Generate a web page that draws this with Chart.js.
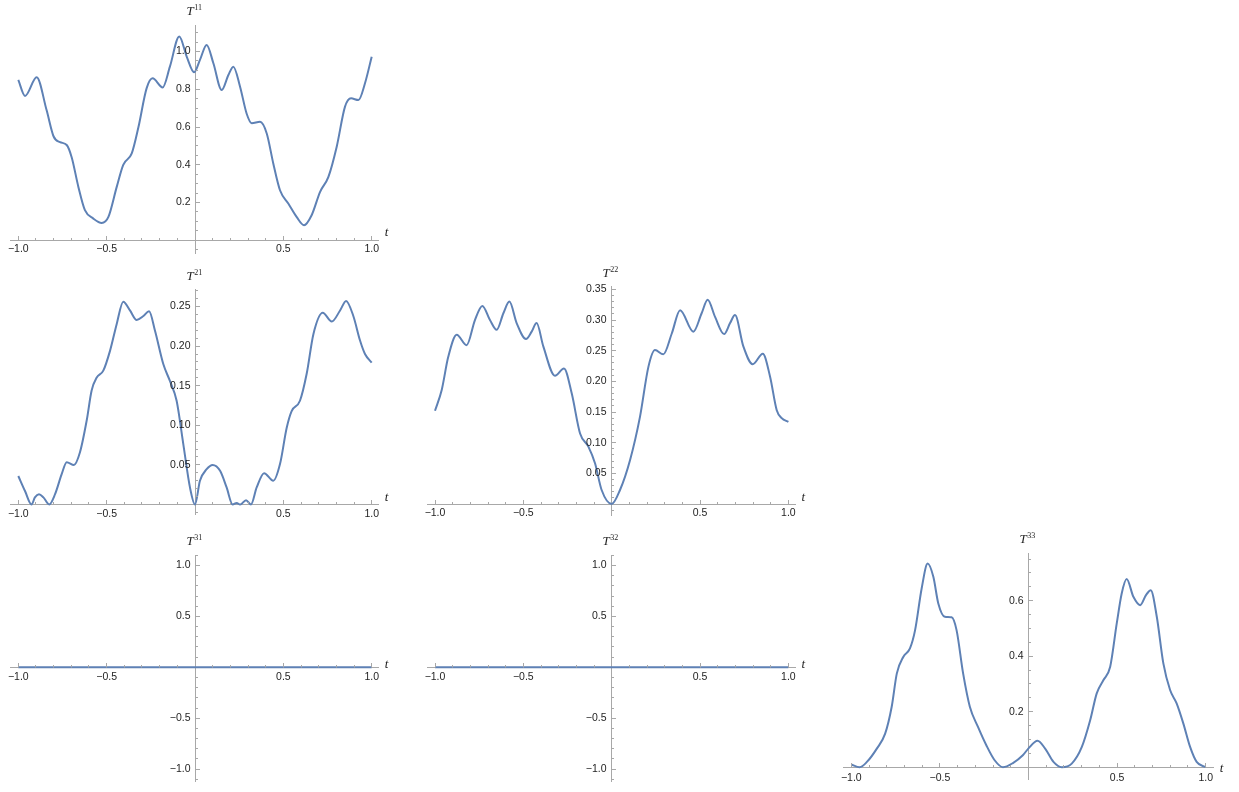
<!DOCTYPE html>
<html>
<head>
<meta charset="utf-8">
<script src="https://cdn.jsdelivr.net/npm/chart.js@4.4.1/dist/chart.umd.min.js"></script>
<style>
  html, body { margin: 0; padding: 0; background: #fff; width: 1239px; height: 792px; overflow: hidden; }
  canvas { position: absolute; }
</style>
</head>
<body>
<canvas id="c11"></canvas>
<canvas id="c21"></canvas>
<canvas id="c22"></canvas>
<canvas id="c31"></canvas>
<canvas id="c32"></canvas>
<canvas id="c33"></canvas>
<script>
// ---- data ----
let t11 = [-1, -0.962, -0.896, -0.84, -0.80, -0.764, -0.726, -0.698, -0.66, -0.623, -0.575, -0.528, -0.49, -0.443, -0.406, -0.358, -0.32, -0.274, -0.24, -0.183, -0.142, -0.089, -0.047, -0.005, 0.028, 0.066, 0.104, 0.151, 0.189, 0.217, 0.255, 0.292, 0.321, 0.368, 0.406, 0.443, 0.481, 0.528, 0.575, 0.617, 0.66, 0.708, 0.755, 0.802, 0.849, 0.883, 0.925, 0.962, 1.0];
let T11 = [0.85, 0.765, 0.864, 0.69, 0.55, 0.52, 0.505, 0.44, 0.283, 0.16, 0.115, 0.092, 0.124, 0.283, 0.40, 0.46, 0.60, 0.805, 0.858, 0.81, 0.92, 1.08, 0.973, 0.89, 0.956, 1.035, 0.938, 0.796, 0.876, 0.92, 0.814, 0.672, 0.62, 0.628, 0.566, 0.407, 0.265, 0.195, 0.124, 0.08, 0.133, 0.257, 0.336, 0.496, 0.708, 0.752, 0.743, 0.832, 0.973];

let t21 = [-1, -0.962, -0.925, -0.906, -0.883, -0.858, -0.825, -0.792, -0.755, -0.726, -0.685, -0.651, -0.613, -0.585, -0.557, -0.519, -0.481, -0.443, -0.406, -0.368, -0.330, -0.292, -0.260, -0.226, -0.179, -0.142, -0.104, -0.066, -0.028, 0, 0.028, 0.066, 0.10, 0.142, 0.179, 0.213, 0.236, 0.255, 0.289, 0.317, 0.349, 0.391, 0.443, 0.481, 0.519, 0.547, 0.594, 0.632, 0.670, 0.723, 0.774, 0.821, 0.855, 0.896, 0.934, 0.962, 1.0];
let T21 = [0.036, 0.017, 0, 0.009, 0.013, 0.009, 0, 0.013, 0.038, 0.0535, 0.05, 0.066, 0.106, 0.144, 0.160, 0.169, 0.194, 0.228, 0.256, 0.245, 0.233, 0.238, 0.244, 0.219, 0.177, 0.156, 0.131, 0.076, 0.021, 0, 0.030, 0.0446, 0.050, 0.0425, 0.0215, 0, 0.002, 0, 0.0055, 0, 0.0215, 0.0396, 0.030, 0.051, 0.097, 0.118, 0.131, 0.165, 0.215, 0.242, 0.231, 0.245, 0.257, 0.238, 0.207, 0.19, 0.179];

let t22 = [-1, -0.962, -0.925, -0.877, -0.821, -0.774, -0.732, -0.689, -0.651, -0.613, -0.579, -0.538, -0.485, -0.453, -0.425, -0.387, -0.321, -0.270, -0.226, -0.179, -0.132, -0.094, -0.057, 0, 0.047, 0.104, 0.160, 0.208, 0.245, 0.292, 0.34, 0.387, 0.462, 0.509, 0.543, 0.585, 0.636, 0.670, 0.698, 0.745, 0.798, 0.855, 0.896, 0.934, 0.962, 1.0];
let T22 = [0.152, 0.186, 0.240, 0.276, 0.259, 0.300, 0.323, 0.300, 0.284, 0.311, 0.330, 0.295, 0.269, 0.281, 0.295, 0.257, 0.209, 0.221, 0.180, 0.115, 0.0935, 0.066, 0.0228, 0, 0.0228, 0.0717, 0.142, 0.224, 0.251, 0.244, 0.278, 0.316, 0.281, 0.311, 0.333, 0.305, 0.277, 0.295, 0.308, 0.257, 0.228, 0.245, 0.208, 0.153, 0.140, 0.134];

let t31 = [-1, -0.5, 0, 0.5, 1];
let T31 = [0, 0, 0, 0, 0];
let t32 = [-1, -0.5, 0, 0.5, 1];
let T32 = [0, 0, 0, 0, 0];

let t33 = [-1, -0.953, -0.912, -0.856, -0.809, -0.772, -0.743, -0.706, -0.669, -0.640, -0.603, -0.569, -0.537, -0.509, -0.472, -0.434, -0.406, -0.369, -0.331, -0.285, -0.238, -0.191, -0.144, -0.088, -0.032, 0, 0.051, 0.094, 0.141, 0.188, 0.244, 0.301, 0.348, 0.385, 0.423, 0.461, 0.498, 0.526, 0.554, 0.592, 0.630, 0.663, 0.690, 0.724, 0.761, 0.799, 0.836, 0.874, 0.912, 0.949, 1.0];
let T33 = [0.0096, 0, 0.019, 0.067, 0.121, 0.218, 0.338, 0.398, 0.428, 0.494, 0.644, 0.734, 0.686, 0.590, 0.542, 0.540, 0.494, 0.338, 0.218, 0.145, 0.079, 0.025, 0, 0.015, 0.043, 0.068, 0.095, 0.067, 0.019, 0, 0.013, 0.073, 0.169, 0.266, 0.314, 0.362, 0.518, 0.626, 0.678, 0.614, 0.584, 0.620, 0.638, 0.542, 0.374, 0.278, 0.230, 0.157, 0.073, 0.019, 0];

// ---- tick labels ----
let xTicks = [-1, -0.5, 0.5, 1];
let xTickLabels = ['\u22121.0', '\u22120.5', '0.5', '1.0'];
let yTicks11 = [0.2, 0.4, 0.6, 0.8, 1.0];
let yLabels11 = ['0.2', '0.4', '0.6', '0.8', '1.0'];
let yTicks21 = [0.05, 0.10, 0.15, 0.20, 0.25];
let yLabels21 = ['0.05', '0.10', '0.15', '0.20', '0.25'];
let yTicks22 = [0.05, 0.10, 0.15, 0.20, 0.25, 0.30, 0.35];
let yLabels22 = ['0.05', '0.10', '0.15', '0.20', '0.25', '0.30', '0.35'];
let yTicks3x = [-1, -0.5, 0.5, 1];
let yLabels3x = ['\u22121.0', '\u22120.5', '0.5', '1.0'];
let yTicks33 = [0.2, 0.4, 0.6];
let yLabels33 = ['0.2', '0.4', '0.6'];

const BLUE = '#5e81b5';
const AXIS = '#a8a8a8';
const LABEL = '#1e1e1e';
const TICK_FONT = '10.5px "Liberation Sans", Arial, sans-serif';
Chart.defaults.font.family = '"Liberation Sans", Arial, sans-serif';

// minor ticks, y labels + axis titles, drawn from the chart's own scales
const mmaAxes = {
  id: 'mmaAxes',
  afterDraw(chart, args, o) {
    const ctx = chart.ctx, xs = chart.scales.x, ys = chart.scales.y;
    const al = p => Math.round(p - 0.5) + 0.5;
    const x0 = al(xs.getPixelForValue(0)), y0 = al(ys.getPixelForValue(0));
    const near = (arr, v) => arr.some(m => Math.abs(m - v) < 1e-6);
    ctx.save();
    ctx.strokeStyle = AXIS;
    ctx.lineWidth = 1;
    ctx.beginPath();
    for (let k = Math.ceil(xs.min / 0.1 - 1e-6); k * 0.1 <= xs.max + 1e-6; k++) {
      const v = k * 0.1;
      if (Math.abs(v) < 1e-6) continue;
      const len = near(o.xMajor, v) ? 4.5 : 2.5;
      const px = al(xs.getPixelForValue(v));
      ctx.moveTo(px, y0); ctx.lineTo(px, y0 - len);
    }
    for (let k = Math.ceil(ys.min / o.yStep - 1e-6); k * o.yStep <= ys.max + 1e-6; k++) {
      const v = k * o.yStep;
      if (Math.abs(v) < 1e-6) continue;
      const len = near(o.yMajor, v) ? 4.5 : 2.5;
      const py = al(ys.getPixelForValue(v));
      ctx.moveTo(x0, py); ctx.lineTo(x0 + len, py);
    }
    ctx.stroke();

    // y tick labels, left of the vertical axis
    ctx.fillStyle = LABEL;
    ctx.font = TICK_FONT;
    ctx.textAlign = 'right';
    ctx.textBaseline = 'middle';
    o.yMajor.forEach((v, i) => ctx.fillText(o.yLabels[i], x0 - 5, ys.getPixelForValue(v)));

    // axis labels: T^ij above the vertical axis, t after the horizontal one
    const area = chart.chartArea;
    ctx.textBaseline = 'alphabetic';
    ctx.textAlign = 'left';
    ctx.font = 'italic 13px "Liberation Serif", serif';
    const tx = x0 - 9, ty = area.top - 10;
    ctx.fillText('T', tx, ty);
    const tw = ctx.measureText('T').width;
    ctx.font = '8px "Liberation Serif", serif';
    ctx.fillText(o.sup, tx + tw + 0.5, ty - 5);
    ctx.font = 'italic 13px "Liberation Serif", serif';
    ctx.textBaseline = 'middle';
    ctx.fillText('t', area.right + 6, y0 + o.tDy);
    ctx.restore();
  }
};

function makePanel(id, p) {
  const pad = 40;
  const left = p.ox + p.xr[0] * p.kx, right = p.ox + p.xr[1] * p.kx;
  const top = p.oy - p.yr[1] * p.ky, bottom = p.oy - p.yr[0] * p.ky;
  const cl = Math.floor(left) - pad, ct = Math.floor(top) - pad;
  const cw = Math.ceil(right) + pad - cl, ch = Math.ceil(bottom) + pad - ct;
  const cv = document.getElementById(id);
  cv.width = cw; cv.height = ch;
  cv.style.left = cl + 'px'; cv.style.top = ct + 'px';
  cv.style.width = cw + 'px'; cv.style.height = ch + 'px';

  const points = p.t.map((t, i) => ({ x: t, y: p.v[i] }));
  return new Chart(cv, {
    type: 'line',
    data: {
      datasets: [{
        data: points,
        borderColor: BLUE,
        borderWidth: 2,
        pointRadius: 0,
        fill: false,
        cubicInterpolationMode: 'monotone'
      }]
    },
    options: {
      responsive: false,
      animation: false,
      events: [],
      layout: { padding: { left: left - cl, right: cl + cw - right, top: top - ct, bottom: ct + ch - bottom } },
      plugins: {
        legend: { display: false },
        tooltip: { enabled: false },
        mmaAxes: { xMajor: xTicks, yMajor: p.yTicks, yLabels: p.yLabels, yStep: p.yStep, sup: p.sup, tDy: p.tDy }
      },
      scales: {
        x: {
          type: 'linear',
          min: p.xr[0], max: p.xr[1],
          position: { y: 0 },
          afterBuildTicks: ax => { ax.ticks = xTicks.map(v => ({ value: v })); },
          grid: { display: true, drawOnChartArea: false, drawTicks: false },
          border: { display: true, color: AXIS, width: 1 },
          ticks: {
            autoSkip: false, maxRotation: 0, padding: p.xPad, color: LABEL, font: { size: 10.5 },
            callback: v => xTickLabels[xTicks.indexOf(v)]
          }
        },
        y: {
          type: 'linear',
          min: p.yr[0], max: p.yr[1],
          position: { x: 0 },
          afterBuildTicks: ax => { ax.ticks = p.yTicks.map(v => ({ value: v })); },
          grid: { display: true, drawOnChartArea: false, drawTicks: false },
          border: { display: true, color: AXIS, width: 1 },
          ticks: { display: false }
        }
      }
    },
    plugins: [mmaAxes]
  });
}

makePanel('c11', { t: t11, v: T11, ox: 195, oy: 240.3, kx: 176.7, ky: 188.75, xr: [-1.045, 1.04], yr: [-0.07, 1.14], yTicks: yTicks11, yLabels: yLabels11, yStep: 0.05, sup: '11', tDy: -8, xPad: 3 });
makePanel('c21', { t: t21, v: T21, ox: 195, oy: 504.5, kx: 176.7, ky: 792, xr: [-1.045, 1.04], yr: [-0.013, 0.271], yTicks: yTicks21, yLabels: yLabels21, yStep: 0.01, sup: '21', tDy: -7, xPad: 3 });
makePanel('c22', { t: t22, v: T22, ox: 611.7, oy: 504, kx: 176.7, ky: 613.3, xr: [-1.045, 1.04], yr: [-0.018, 0.354], yTicks: yTicks22, yLabels: yLabels22, yStep: 0.01, sup: '22', tDy: -7, xPad: 3 });
makePanel('c31', { t: t31, v: T31, ox: 195, oy: 667.3, kx: 176.7, ky: 101.8, xr: [-1.045, 1.04], yr: [-1.12, 1.1], yTicks: yTicks3x, yLabels: yLabels3x, yStep: 0.1, sup: '31', tDy: -3, xPad: 4 });
makePanel('c32', { t: t32, v: T32, ox: 611.7, oy: 667.3, kx: 176.7, ky: 101.8, xr: [-1.045, 1.04], yr: [-1.12, 1.1], yTicks: yTicks3x, yLabels: yLabels3x, yStep: 0.1, sup: '32', tDy: -3, xPad: 4 });
makePanel('c33', { t: t33, v: T33, ox: 1028.5, oy: 767.2, kx: 177.2, ky: 277.5, xr: [-1.045, 1.045], yr: [-0.046, 0.771], yTicks: yTicks33, yLabels: yLabels33, yStep: 0.05, sup: '33', tDy: 1, xPad: 5 });
</script>
</body>
</html>
